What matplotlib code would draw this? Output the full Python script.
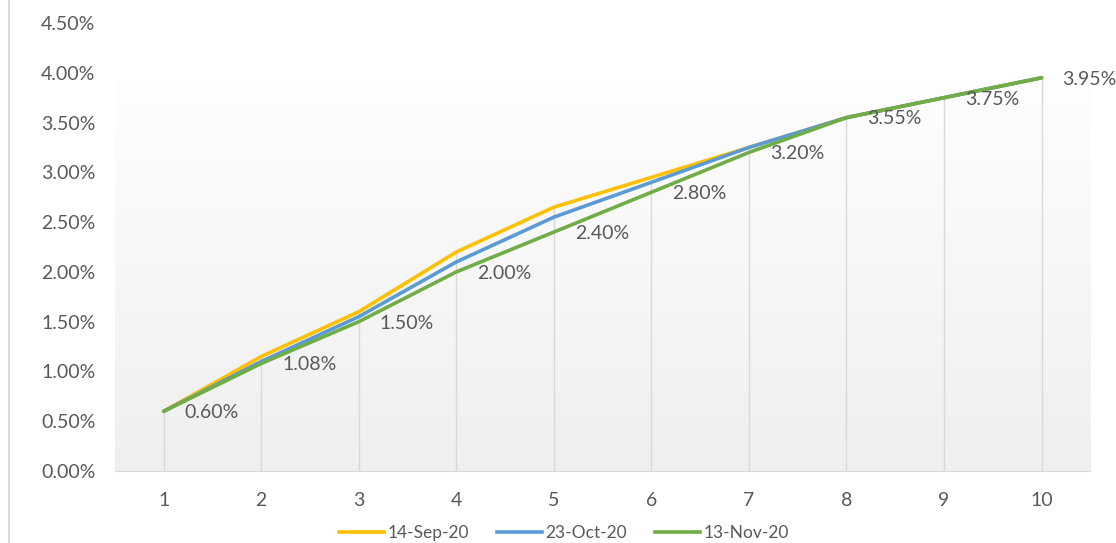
import numpy as np
import matplotlib.pyplot as plt
from matplotlib.ticker import FuncFormatter
from matplotlib.lines import Line2D

plt.rcParams['font.family'] = ['Lato', 'DejaVu Sans']

terms = [1, 2, 3, 4, 5, 6, 7, 8, 9, 10]
sep14 = [0.60, 1.15, 1.60, 2.20, 2.65, 2.95, 3.25, 3.55, 3.75, 3.95]
oct23 = [0.60, 1.10, 1.55, 2.10, 2.55, 2.90, 3.25, 3.55, 3.75, 3.95]
nov13 = [0.60, 1.08, 1.50, 2.00, 2.40, 2.80, 3.20, 3.55, 3.75, 3.95]
names = ['14-Sep-20', '23-Oct-20', '13-Nov-20']
colors = ['#FFC000', '#5B9BD5', '#70AD47']
txt = '#595959'
fs = 14

fig = plt.figure(figsize=(11.16, 5.43), dpi=100)
ax = fig.add_axes([0.103, 0.1326, 0.874, 0.825])

# plot area gradient
grad = np.linspace(0, 1, 256).reshape(-1, 1)
ax.imshow(grad, extent=[0.5, 10.5, 0, 3.92], aspect='auto', origin='upper',
          cmap=plt.matplotlib.colors.LinearSegmentedColormap.from_list('g', ['#fefefe', '#efefef']),
          zorder=0)

# drop lines
tops = np.max([sep14, oct23, nov13], axis=0)
ax.vlines(terms, 0, tops, colors='#d9d9d9', lw=1, zorder=1)

for ys, c in zip([sep14, oct23, nov13], colors):
    ax.plot(terms, ys, color=c, lw=2.6, zorder=3, solid_capstyle='round')

for x, y in zip(terms, nov13):
    ax.annotate('%.2f%%' % y, (x, y), xytext=(15, -1), textcoords='offset points',
                ha='left', va='center', fontsize=fs, color=txt, zorder=4)

ax.set_xlim(0.5, 10.5)
ax.set_ylim(0, 4.5)
ax.set_xticks(terms)
ax.set_yticks(np.arange(0, 4.51, 0.5))
ax.yaxis.set_major_formatter(FuncFormatter(lambda v, p: '%.2f%%' % v))
ax.tick_params(length=0, labelsize=fs, colors=txt)
ax.tick_params(axis='y', pad=14)
ax.tick_params(axis='x', pad=15)
for s in ['top', 'right', 'left']:
    ax.spines[s].set_visible(False)
ax.spines['bottom'].set_color('#d9d9d9')

handles = [Line2D([0], [0], color=c, lw=2.6) for c in colors]
fig.legend(handles, names, loc='lower center', bbox_to_anchor=(0.505, -0.025), ncol=3,
           frameon=False, fontsize=12.5, labelcolor=txt, handlelength=2.6,
           handletextpad=0.2, columnspacing=1.6)

# chart border on the left
fig.add_artist(Line2D([0.008, 0.008], [0, 1], color='#d9d9d9', lw=1.5))

fig.savefig('out.png', dpi=100)
